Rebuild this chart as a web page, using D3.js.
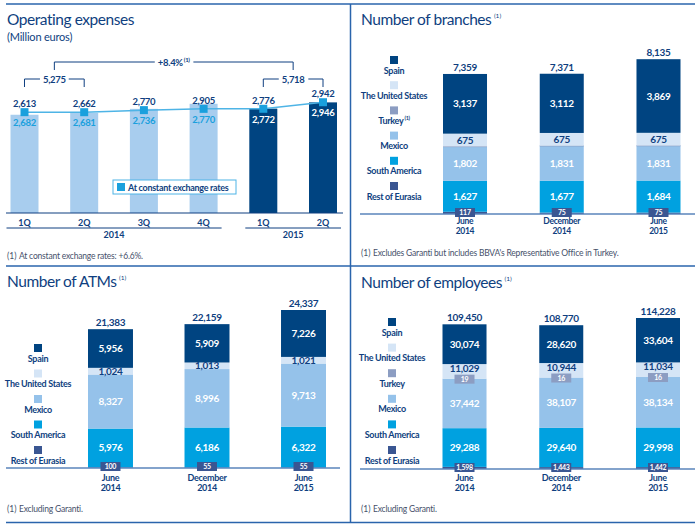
<!DOCTYPE html>
<html><head><meta charset="utf-8">
<script src="https://cdn.jsdelivr.net/npm/d3@7"></script>
<style>
body{margin:0;background:#fff;}
svg{display:block;font-family:Lato,"Open Sans",sans-serif;}
</style></head><body>
<svg id="c" width="700" height="527"></svg>
<script>
// ---------- DATA ----------
const opexQuarters = ["1Q","2Q","3Q","4Q","1Q","2Q"];
const opexYears    = ["2014","2014","2014","2014","2015","2015"];
const opexValues   = [2613,2662,2770,2905,2776,2942];
const opexConstant = [2682,2681,2736,2770,2772,2946];
const opexHalfTotals = ["5,275","5,718"];
const opexGrowth = "+8.4%";

const periods = [["June","2014"],["December","2014"],["June","2015"]];

const branchesSpain  = [3137,3112,3869];
const branchesUS     = [675,675,675];
const branchesTurkey = [1,1,1];
const branchesMexico = [1802,1831,1831];
const branchesSA     = [1627,1677,1684];
const branchesRoE    = [117,75,75];
const branchesTotal  = [7359,7371,8135];

const atmsSpain  = [5956,5909,7226];
const atmsUS     = [1024,1013,1021];
const atmsMexico = [8327,8996,9713];
const atmsSA     = [5976,6186,6322];
const atmsRoE    = [100,55,55];
const atmsTotal  = [21383,22159,24337];

const empSpain  = [30074,28620,33604];
const empUS     = [11029,10944,11034];
const empTurkey = [19,16,16];
const empMexico = [37442,38107,38134];
const empSA     = [29288,29640,29998];
const empRoE    = [1598,1443,1442];
const empTotal  = [109450,108770,114228];

// ---------- STYLE ----------
const C = {
  navy:"#0f3f80", frame:"#2a64ac", spain:"#004481", us:"#d5e5f6", turkey:"#8c9dc2",
  mexico:"#95c2ea", sa:"#00a1e0", roe:"#3a5692", opexLight:"#a8cdee", opexDark:"#004481",
  constLine:"#4eb4e6", constMark:"#1aa0dd", axis:"#5a85bb", foot:"#46506a"
};
const fmt = d3.format(",");
const svg = d3.select("#c");

// frame
const fr = svg.append("g").attr("stroke",C.frame).attr("stroke-width",1.5);
[[6,4,695,4],[6,266,695,266],[6,522.5,695,522.5],[350.5,4,350.5,522.5]].forEach(l=>
  fr.append("line").attr("x1",l[0]).attr("y1",l[1]).attr("x2",l[2]).attr("y2",l[3]));

function title(x,y,txt,sup){
  const t = svg.append("text").attr("x",x).attr("y",y).attr("fill",C.navy)
    .attr("font-size",15.5).attr("letter-spacing",-0.45).text(txt);
  if(sup) t.append("tspan").attr("font-size",6.5).attr("letter-spacing",0).attr("dx",2.5).attr("dy",-7).text("(1)");
}
function footnote(x,y,txt){
  svg.append("text").attr("x",x).attr("y",y).attr("fill",C.foot).attr("font-size",8.5).text("(1)");
  svg.append("text").attr("x",x+12).attr("y",y).attr("fill",C.foot).attr("font-size",8.5)
    .attr("letter-spacing",-0.2).text(txt);
}

// ---------- OPERATING EXPENSES ----------
title(7,25,"Operating expenses",false);
svg.append("text").attr("x",7).attr("y",41).attr("fill",C.navy).attr("font-size",11)
  .attr("letter-spacing",-0.2).text("(Million euros)");

const xo = d3.scaleBand().domain(d3.range(opexValues.length)).range([10.5,337]).paddingInner(0.531).paddingOuter(0);
const yo = d3.scaleLinear().domain([0,3000]).range([213,100.2]);
const bw = xo.bandwidth();
const cx = i => xo(i)+bw/2;
const go = svg.append("g");
go.selectAll("rect.bar").data(opexValues).join("rect").attr("class","bar")
  .attr("x",(d,i)=>xo(i)).attr("y",d=>yo(d)).attr("width",bw).attr("height",d=>yo(0)-yo(d))
  .attr("fill",(d,i)=>opexYears[i]==="2014"?C.opexLight:C.opexDark);
go.append("line").attr("x1",6).attr("x2",343).attr("y1",yo(0)).attr("y2",yo(0))
  .attr("stroke",C.navy).attr("stroke-width",1.2);
go.selectAll("text.q").data(opexQuarters).join("text").attr("class","q")
  .attr("x",(d,i)=>cx(i)).attr("y",226).attr("text-anchor","middle").attr("font-size",9)
  .attr("font-weight",700).attr("fill",C.navy).text(d=>d);
const years = Array.from(d3.group(d3.range(opexYears.length), i=>opexYears[i]));
years.forEach(([yr,idx])=>{
  const a = xo(idx[0])-4, b = xo(idx[idx.length-1])+bw+4;
  go.append("line").attr("x1",a).attr("x2",b).attr("y1",228).attr("y2",228).attr("stroke",C.navy).attr("stroke-width",1);
  go.append("text").attr("x",(a+b)/2).attr("y",238).attr("text-anchor","middle").attr("font-size",9)
    .attr("font-weight",700).attr("fill",C.navy).text(yr);
});
// constant line
go.append("path").datum(opexConstant).attr("fill","none").attr("stroke",C.constLine).attr("stroke-width",1.5)
  .attr("d",d3.line().x((d,i)=>cx(i)).y(d=>yo(d)));
go.selectAll("rect.mk").data(opexConstant).join("rect").attr("class","mk")
  .attr("x",(d,i)=>cx(i)-4).attr("y",d=>yo(d)-4).attr("width",8).attr("height",8).attr("fill",C.constMark);
go.selectAll("text.nom").data(opexValues).join("text").attr("class","nom")
  .attr("x",(d,i)=>cx(i)).attr("y",(d,i)=>yo(opexConstant[i])-5).attr("text-anchor","middle")
  .attr("font-size",9.5).attr("font-weight",700).attr("letter-spacing",-0.3).attr("fill",C.navy).text(d=>fmt(d));
go.selectAll("text.cst").data(opexConstant).join("text").attr("class","cst")
  .attr("x",(d,i)=>cx(i)).attr("y",d=>yo(d)+14).attr("text-anchor","middle")
  .attr("font-size",9.5).attr("font-weight",700).attr("letter-spacing",-0.3)
  .attr("fill",(d,i)=>opexYears[i]==="2014"?C.constMark:"#fff").text(d=>fmt(d));

function bracket(x1,x2,y,drop,label,sup){
  go.append("path").attr("d",`M${x1},${y+drop}V${y}H${x2}V${y+drop}`).attr("fill","none")
    .attr("stroke",C.navy).attr("stroke-width",1);
  const t = go.append("text").attr("x",(x1+x2)/2).attr("y",y+3.5).attr("text-anchor","middle")
    .attr("font-size",9.5).attr("font-weight",700).attr("letter-spacing",-0.3).attr("fill",C.navy).text(label);
  if(sup) t.append("tspan").attr("font-size",6).attr("dy",-4).attr("dx",1).text("(1)");
  const bb = t.node().getBBox();
  go.insert("rect","text:last-child").attr("x",bb.x-3).attr("y",bb.y).attr("width",bb.width+6)
    .attr("height",bb.height).attr("fill","#fff");
}
bracket(cx(0),cx(1),79,8,opexHalfTotals[0],false);
bracket(cx(4),cx(5),79,8,opexHalfTotals[1],false);
bracket((cx(0)+cx(1))/2,(cx(4)+cx(5))/2,62,8,opexGrowth,true);

// legend
go.append("rect").attr("x",113).attr("y",180).attr("width",123).attr("height",14)
  .attr("fill","#fff").attr("stroke",C.constLine).attr("stroke-width",1);
go.append("rect").attr("x",117).attr("y",183).attr("width",8).attr("height",8).attr("fill",C.constMark);
go.append("text").attr("x",128).attr("y",190.5).attr("font-size",9).attr("font-weight",700)
  .attr("letter-spacing",-0.3).attr("fill",C.navy).text("At constant exchange rates");
footnote(7,259,"At constant exchange rates: +6.6%.");

// ---------- STACKED PANELS ----------
function stackedPanel(cfg){
  title(cfg.tx,cfg.ty,cfg.title,true);
  const g = svg.append("g");
  const x = d3.scaleBand().domain(d3.range(periods.length)).range(cfg.xr).paddingInner(cfg.pad).paddingOuter(0);
  const y = d3.scaleLinear().domain([0,d3.max(cfg.totals)]).range([cfg.base,cfg.top]);
  const w = x.bandwidth();
  const keys = cfg.series.map(s=>s.name);
  const rows = d3.range(periods.length).map(i=>{const o={}; cfg.series.forEach(s=>o[s.name]=s.values[i]); return o;});
  const stacked = d3.stack().keys(keys)(rows);
  const hasTurkeyBox = cfg.series.some(s=>s.label==="box-top");
  stacked.forEach((layer,li)=>{
    const s = cfg.series[li];
    layer.forEach((d,i)=>{
      let h = y(d[0])-y(d[1]);
      const minH = s.min||0;
      g.append("rect").attr("x",x(i)).attr("y",y(d[1])-Math.max(0,minH-h)/2).attr("width",w)
        .attr("height",Math.max(h,minH)).attr("fill",s.color);
    });
  });
  // axis
  g.append("line").attr("x1",cfg.axis[0]).attr("x2",cfg.axis[1]).attr("y1",cfg.base).attr("y2",cfg.base)
    .attr("stroke",C.axis).attr("stroke-width",1.5);
  // segment labels
  stacked.forEach((layer,li)=>{
    const s = cfg.series[li];
    layer.forEach((d,i)=>{
      const xc = x(i)+w/2, ym = (y(d[0])+y(d[1]))/2;
      if(s.label==="in"){
        let yy = ym+3.5;
        if(s.name==="The United States" && hasTurkeyBox) yy -= 3;
        g.append("text").attr("x",xc).attr("y",yy).attr("text-anchor","middle").attr("font-size",10)
          .attr("font-weight",700).attr("letter-spacing",-0.3).attr("fill",s.text).text(fmt(d.data[s.name]));
      } else if(s.label==="box" || s.label==="box-top"){
        const yc = s.label==="box" ? cfg.base-1.5 : ym+0.5;
        g.append("rect").attr("x",xc-10).attr("y",yc-4.5).attr("width",20).attr("height",9).attr("fill",s.color);
        g.append("text").attr("x",xc).attr("y",yc+2.5).attr("text-anchor","middle").attr("font-size",7)
          .attr("font-weight",700).attr("letter-spacing",-0.3).attr("fill","#fff").text(fmt(d.data[s.name]));
      }
    });
  });
  // totals
  g.selectAll("text.tot").data(cfg.totals).join("text").attr("class","tot")
    .attr("x",(d,i)=>x(i)+w/2).attr("y",d=>y(d)-3).attr("text-anchor","middle").attr("font-size",10)
    .attr("font-weight",700).attr("letter-spacing",-0.3).attr("fill",C.navy).text(d=>fmt(d));
  // categories
  periods.forEach((p,i)=>{
    p.forEach((ln,k)=>g.append("text").attr("x",x(i)+w/2).attr("y",cfg.catY+k*cfg.catGap)
      .attr("text-anchor","middle").attr("font-size",cfg.catSize||9).attr("font-weight",700).attr("letter-spacing",-0.3)
      .attr("fill",C.navy).text(ln));
  });
  // legend (top to bottom)
  const leg = cfg.series.slice().reverse();
  leg.forEach((s,k)=>{
    const ty = cfg.legY0 + k*cfg.legStep;
    g.append("rect").attr("x",cfg.legX-4).attr("y",ty).attr("width",8).attr("height",8).attr("fill",s.color);
    const t = g.append("text").attr("x",cfg.legX).attr("y",ty+17.5).attr("text-anchor","middle")
      .attr("font-size",9).attr("font-weight",700).attr("letter-spacing",-0.3).attr("fill",C.navy).text(s.name);
    if(s.sup) t.append("tspan").attr("font-size",5.5).attr("dy",-4).attr("dx",1).text("(1)");
  });
  footnote(cfg.fx,cfg.fy,cfg.foot);
}

stackedPanel({
  title:"Number of branches", tx:361, ty:25,
  xr:[443,680.5], pad:0.545, base:214, top:59.2, axis:[360,695], catY:224, catGap:9.5, catSize:8.5,
  legX:394, legY0:56, legStep:25.2, totals:branchesTotal,
  fx:361, fy:256, foot:"Excludes Garanti but includes BBVA's Representative Office in Turkey.",
  series:[
    {name:"Rest of Eurasia", values:branchesRoE, color:C.roe, label:"box"},
    {name:"South America", values:branchesSA, color:C.sa, label:"in", text:"#fff"},
    {name:"Mexico", values:branchesMexico, color:C.mexico, label:"in", text:"#fff"},
    {name:"Turkey", values:branchesTurkey, color:C.turkey, label:"none", min:1.2, sup:true},
    {name:"The United States", values:branchesUS, color:C.us, label:"in", text:C.navy},
    {name:"Spain", values:branchesSpain, color:C.spain, label:"in", text:"#fff"}
  ]
});
stackedPanel({
  title:"Number of ATMs", tx:7, ty:287,
  xr:[88,326], pad:0.534, base:468, top:310, axis:[6,340], catY:481, catGap:10,
  legX:38, legY0:344, legStep:25.5, totals:atmsTotal,
  fx:7, fy:512, foot:"Excluding Garanti.",
  series:[
    {name:"Rest of Eurasia", values:atmsRoE, color:C.roe, label:"box"},
    {name:"South America", values:atmsSA, color:C.sa, label:"in", text:"#fff"},
    {name:"Mexico", values:atmsMexico, color:C.mexico, label:"in", text:"#fff"},
    {name:"The United States", values:atmsUS, color:C.us, label:"in", text:C.navy},
    {name:"Spain", values:atmsSpain, color:C.spain, label:"in", text:"#fff"}
  ]
});
stackedPanel({
  title:"Number of employees", tx:361, ty:288,
  xr:[442.5,680], pad:0.545, base:469, top:318, axis:[360,695], catY:481, catGap:10,
  legX:392, legY0:318, legStep:25.6, totals:empTotal,
  fx:361, fy:512, foot:"Excluding Garanti.",
  series:[
    {name:"Rest of Eurasia", values:empRoE, color:C.roe, label:"box"},
    {name:"South America", values:empSA, color:C.sa, label:"in", text:"#fff"},
    {name:"Mexico", values:empMexico, color:C.mexico, label:"in", text:"#fff"},
    {name:"Turkey", values:empTurkey, color:C.turkey, label:"box-top"},
    {name:"The United States", values:empUS, color:C.us, label:"in", text:C.navy},
    {name:"Spain", values:empSpain, color:C.spain, label:"in", text:"#fff"}
  ]
});
</script>
</body></html>
